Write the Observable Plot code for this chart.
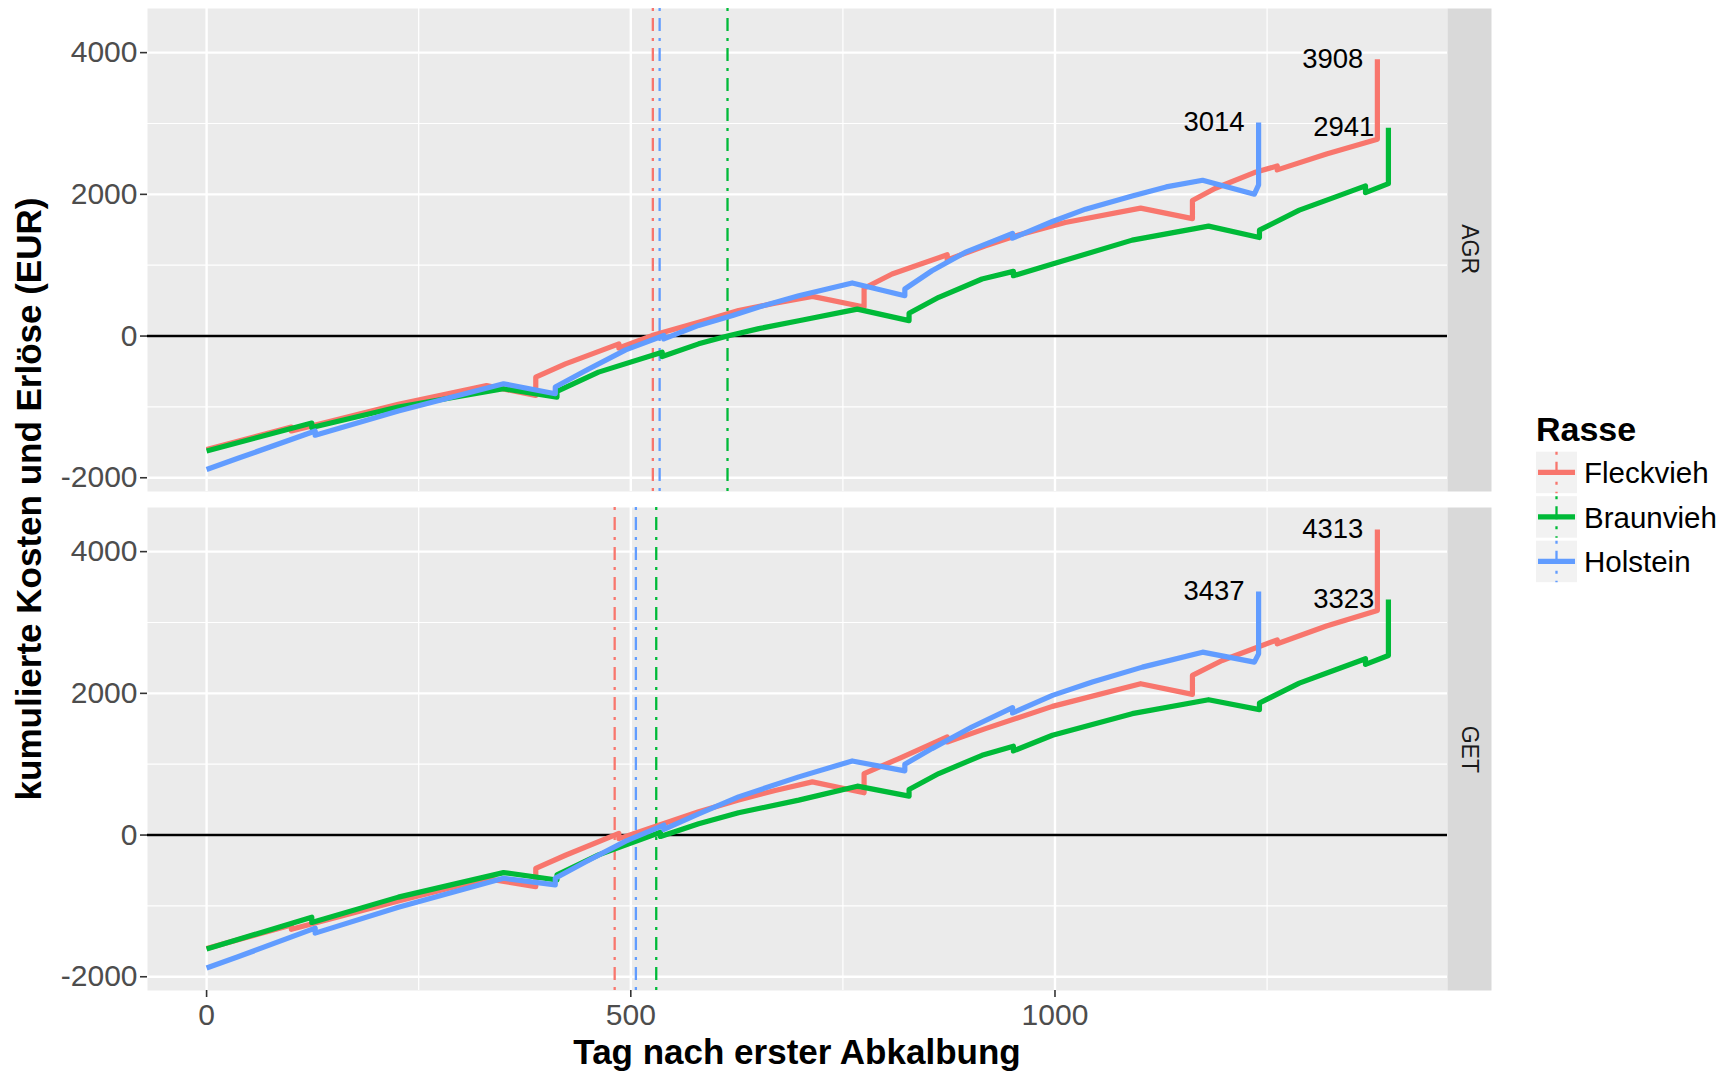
<!DOCTYPE html>
<html><head><meta charset="utf-8">
<script src="https://cdn.jsdelivr.net/npm/d3@7"></script>
<script src="https://cdn.jsdelivr.net/npm/@observablehq/plot@0.6"></script>
<style>
body{margin:0;background:#fff;font-family:"Liberation Sans",Arial,Helvetica,sans-serif;}
#wrap{position:relative;width:1736px;height:1072px;overflow:hidden;background:#fff;}
#chart{position:absolute;left:0;top:0;}
.ytitle{position:absolute;left:29px;top:499px;transform:translate(-50%,-50%) rotate(-90deg);font-weight:bold;font-size:35px;white-space:nowrap;color:#000;line-height:1.15;}
.xtitle{position:absolute;left:797px;top:1052px;transform:translate(-50%,-50%);font-weight:bold;font-size:35px;white-space:nowrap;color:#000;line-height:1.15;}
#legend{position:absolute;left:1530px;top:400px;}
</style></head>
<body>
<div id="wrap">
  <div id="chart"></div>
  <div class="ytitle">kumulierte Kosten und Erlöse (EUR)</div>
  <div class="xtitle">Tag nach erster Abkalbung</div>
  <div id="legend"></div>
</div>
<script>
// ---- categories ----
const facets = ["AGR", "GET"];
const breeds = ["Fleckvieh", "Braunvieh", "Holstein"];
const colors = ["#F8766D", "#00BA38", "#619CFF"];

// ---- tick labels ----
const xTicks = [0, 500, 1000];
const xMinor = [250, 750, 1250];
const yTicks = [-2000, 0, 2000, 4000];
const yMinor = [-1000, 1000, 3000];

// ---- series: AGR ----
const agrFleckviehDay = [0, 100, 100, 226, 330, 388, 388, 423, 486, 486, 525, 580, 627, 670, 714, 775, 775, 808, 873, 873, 918, 954, 1012, 1101, 1162, 1162, 1189, 1235, 1262, 1262, 1320, 1380, 1380];
const agrFleckviehEUR = [-1600, -1284, -1340, -964, -700, -838, -580, -392, -110, -169, 7, 194, 359, 465, 560, 410, 675, 875, 1147, 1075, 1274, 1415, 1603, 1805, 1657, 1913, 2086, 2307, 2400, 2345, 2570, 2776, 3908];

const agrBraunviehDay = [0, 124, 124, 226, 350, 413, 413, 462, 537, 537, 580, 614, 651, 698, 767, 828, 828, 863, 914, 951, 951, 997, 1091, 1181, 1241, 1241, 1288, 1330, 1366, 1366, 1393, 1393];
const agrBraunviehEUR = [-1622, -1228, -1290, -1002, -744, -861, -780, -509, -228, -289, -110, 0, 105, 215, 380, 218, 322, 547, 805, 913, 852, 1016, 1354, 1551, 1391, 1494, 1777, 1960, 2119, 2025, 2151, 2941];

const agrHolsteinDay = [0, 37, 128, 128, 226, 350, 411, 411, 447, 494, 539, 539, 580, 620, 651, 698, 761, 823, 823, 855, 894, 950, 950, 997, 1036, 1091, 1131, 1174, 1235, 1240, 1240];
const agrHolsteinEUR = [-1884, -1725, -1340, -1400, -1058, -673, -814, -720, -486, -195, 7, -40, 150, 289, 410, 570, 750, 570, 664, 922, 1180, 1448, 1382, 1617, 1791, 1978, 2105, 2199, 2002, 2133, 3014];

// ---- series: GET ----
const getFleckviehDay = [0, 100, 100, 226, 330, 388, 388, 423, 486, 486, 580, 627, 670, 714, 775, 775, 816, 873, 873, 918, 997, 1101, 1162, 1162, 1197, 1262, 1262, 1320, 1380, 1380];
const getFleckviehEUR = [-1600, -1270, -1330, -930, -615, -727, -469, -285, 23, -50, 330, 493, 630, 751, 596, 868, 1080, 1384, 1314, 1502, 1816, 2136, 1985, 2253, 2464, 2755, 2699, 2950, 3168, 4313];

const getBraunviehDay = [0, 124, 124, 226, 350, 413, 413, 462, 535, 535, 580, 627, 698, 767, 828, 828, 863, 914, 951, 951, 997, 1091, 1181, 1241, 1241, 1288, 1330, 1366, 1366, 1393, 1393];
const getBraunviehEUR = [-1609, -1159, -1234, -876, -530, -634, -560, -280, 40, -20, 160, 314, 493, 690, 549, 643, 868, 1126, 1253, 1188, 1408, 1713, 1910, 1770, 1864, 2144, 2330, 2488, 2409, 2534, 3323];

const getHolsteinDay = [0, 37, 128, 128, 226, 350, 411, 411, 447, 494, 539, 539, 580, 627, 698, 761, 823, 823, 855, 902, 950, 950, 997, 1044, 1103, 1174, 1235, 1240, 1240];
const getHolsteinEUR = [-1877, -1718, -1314, -1384, -1020, -610, -704, -610, -376, -85, 141, 80, 300, 539, 821, 1046, 906, 999, 1220, 1525, 1798, 1723, 1971, 2159, 2370, 2581, 2440, 2558, 3437];

// ---- break-even days (Fleckvieh, Braunvieh, Holstein) ----
const breakEvenAGR = [526, 614, 534];
const breakEvenGET = [481, 530, 506];

// ---- end values shown as labels (Fleckvieh, Braunvieh, Holstein) ----
const endLabelAGR = [3908, 2941, 3014];
const endLabelGET = [4313, 3323, 3437];

// ---- build tables ----
const seriesIndex = {
  AGR: [[agrFleckviehDay, agrFleckviehEUR], [agrBraunviehDay, agrBraunviehEUR], [agrHolsteinDay, agrHolsteinEUR]],
  GET: [[getFleckviehDay, getFleckviehEUR], [getBraunviehDay, getBraunviehEUR], [getHolsteinDay, getHolsteinEUR]]
};
const lines = [];
const labels = [];
const vlines = [];
for (const f of facets) {
  breeds.forEach((b, i) => {
    const [days, eur] = seriesIndex[f][i];
    days.forEach((d, j) => lines.push({facet: f, breed: b, day: d, eur: eur[j]}));
    const lab = (f === "AGR" ? endLabelAGR : endLabelGET)[i];
    labels.push({facet: f, breed: b, day: days[days.length - 1], eur: lab});
    vlines.push({facet: f, breed: b, day: (f === "AGR" ? breakEvenAGR : breakEvenGET)[i]});
  });
}

const allDays = lines.map(d => d.day);
const allEur = lines.map(d => d.eur);
const [dx0, dx1] = d3.extent(allDays);
const [dy0, dy1] = d3.extent(allEur);
const xPad = 0.05 * (dx1 - dx0), yPad = 0.05 * (dy1 - dy0);

const W = 1500, ML = 147, MR = 53, MT = 8, MB = 45, H = 1036;
const panelW = W - ML - MR;
const dash = "3,7,13,7";

const chart = Plot.plot({
  width: W, height: H,
  marginLeft: ML, marginRight: MR, marginTop: MT, marginBottom: MB,
  style: {fontFamily: "'Liberation Sans', Arial, Helvetica, sans-serif", background: "white", overflow: "visible"},
  x: {domain: [dx0 - xPad, dx1 + xPad]},
  y: {domain: [dy0 - yPad, dy1 + yPad]},
  fy: {domain: facets, paddingInner: 0.032, paddingOuter: 0, axis: null},
  color: {domain: breeds, range: colors},
  marks: [
    Plot.frame({fill: "#EBEBEB", stroke: "none"}),
    Plot.frame({fill: "#D9D9D9", stroke: "none", insetLeft: panelW, insetRight: -44}),
    Plot.text(facets, {fy: d => d, text: d => d, frameAnchor: "right", dx: 22, dy: 24, rotate: 90, fontSize: 23, fill: "#1A1A1A"}),
    Plot.ruleX(xMinor, {stroke: "white", strokeWidth: 1.2}),
    Plot.ruleY(yMinor, {stroke: "white", strokeWidth: 1.2}),
    Plot.ruleX(xTicks, {stroke: "white", strokeWidth: 2.4}),
    Plot.ruleY(yTicks, {stroke: "white", strokeWidth: 2.4}),
    Plot.ruleY([0], {stroke: "black", strokeWidth: 2.4}),
    Plot.ruleX(vlines, {x: "day", fy: "facet", stroke: "breed", strokeWidth: 2.3, strokeDasharray: dash}),
    Plot.line(lines, {x: "day", y: "eur", z: "breed", stroke: "breed", fy: "facet", strokeWidth: 5.2, strokeLinejoin: "round", strokeLinecap: "butt"}),
    Plot.text(labels, {x: "day", y: "eur", fy: "facet", text: d => String(d.eur), textAnchor: "end", dx: -14, fontSize: 27.5, fill: "black"}),
    Plot.axisY({ticks: yTicks, tickFormat: d => String(d), tickSize: 7, tickPadding: 3, fontSize: 30, color: "#4D4D4D", stroke: "#333333", strokeWidth: 1.6, label: null}),
    Plot.axisX({ticks: xTicks, tickFormat: d => String(d), tickSize: 7, tickPadding: 6, fontSize: 30, color: "#4D4D4D", stroke: "#333333", strokeWidth: 1.6, label: null})
  ]
});
document.getElementById("chart").appendChild(chart);

// ---- legend ----
const lg = d3.select("#legend").append("svg").attr("width", 206).attr("height", 200)
  .style("font-family", "'Liberation Sans', Arial, Helvetica, sans-serif");
lg.append("text").attr("x", 6).attr("y", 41).attr("font-size", 34).attr("font-weight", "bold").attr("fill", "#000").text("Rasse");
breeds.forEach((b, i) => {
  const top = 51.7 + i * 44.5;
  const g = lg.append("g");
  g.append("rect").attr("x", 6).attr("y", top).attr("width", 41).attr("height", 41.5).attr("fill", "#F2F2F2");
  g.append("line").attr("x1", 26.5).attr("x2", 26.5).attr("y1", top).attr("y2", top + 41.5)
    .attr("stroke", colors[i]).attr("stroke-width", 2.3).attr("stroke-dasharray", dash);
  g.append("line").attr("x1", 8).attr("x2", 45).attr("y1", top + 20.75).attr("y2", top + 20.75)
    .attr("stroke", colors[i]).attr("stroke-width", 5.2);
  g.append("text").attr("x", 54).attr("y", top + 31.3).attr("font-size", 29.5).attr("fill", "#000").text(b);
});
</script>
</body></html>
